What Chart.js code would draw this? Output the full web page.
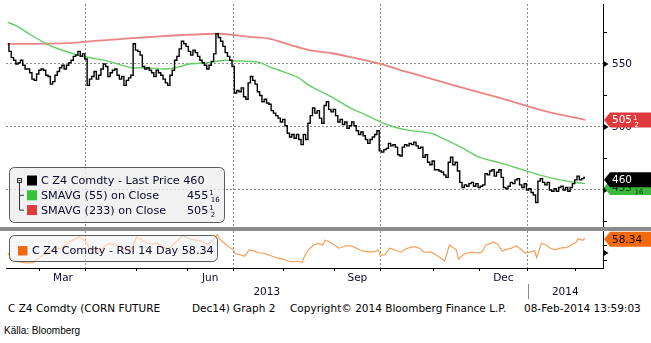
<!DOCTYPE html>
<html>
<head>
<meta charset="utf-8">
<script src="https://cdn.jsdelivr.net/npm/chart.js@4.4.1/dist/chart.umd.min.js"></script>
<style>
  html, body { margin: 0; padding: 0; background: #fff; }
  #wrap { position: relative; width: 651px; height: 343px; overflow: hidden; font-family: 'DejaVu Sans', sans-serif; color: #000; }
  #priceBox { position: absolute; left: 0; top: 0; width: 651px; height: 227px; }
  #rsiBox { position: absolute; left: 0; top: 231px; width: 651px; height: 69px; }
  #split { position: absolute; left: 0; top: 227px; width: 651px; height: 4px; background: #8c8c8c; }
  .foot { position: absolute; top: 302px; font-size: 10.5px; line-height: 12px; white-space: pre; }
  #source { position: absolute; left: 4px; top: 325px; font: 10px/12px 'Liberation Sans', Arial, sans-serif; }
</style>
</head>
<body>
<div id="wrap">
  <div id="priceBox"><canvas id="priceCanvas"></canvas></div>
  <div id="split"></div>
  <div id="rsiBox"><canvas id="rsiCanvas"></canvas></div>
  <div class="foot" style="left:8px">C Z4 Comdty (CORN FUTURE</div>
  <div class="foot" style="left:192px">Dec14) Graph 2</div>
  <div class="foot" style="left:290px">Copyright© 2014 Bloomberg Finance L.P.</div>
  <div class="foot" style="left:524px">08-Feb-2014 13:59:03</div>
  <div id="source">Källa: Bloomberg</div>
</div>
<script>
// daily closes, one per trading day (index 0 = 8 Feb 2013)
const closes = [
  566, 560, 555, 553, 550, 551, 553, 549, 546, 546,
  543, 538, 537, 542, 545, 546, 545, 541, 540, 534,
  536, 541, 544, 547, 549, 546, 549, 551, 553, 556,
  557, 560, 556, 558, 554, 533, 538, 540, 544, 538,
  541, 546, 550, 548, 540, 543, 545, 546, 541, 538,
  540, 533, 537, 539, 541, 566, 561, 560, 557, 548,
  546, 547, 545, 543, 540, 545, 543, 541, 538, 535,
  533, 541, 545, 553, 556, 562, 568, 566, 564, 560,
  557, 561, 559, 556, 553, 551, 549, 546, 549, 552,
  558, 574, 571, 568, 564, 559, 556, 553, 548, 527,
  529, 528, 531, 524, 522, 535, 540, 537, 534, 528,
  525, 520, 522, 519, 518, 513, 511, 509, 507, 504,
  506, 501, 495, 492, 494, 491, 494, 490, 486, 494,
  490, 503, 509, 515, 511, 513, 507, 503, 517, 520,
  514, 512, 514, 509, 504, 506, 502, 504, 499, 501,
  504, 501, 497, 494, 496, 493, 490, 487, 490, 492,
  494, 497, 481, 480, 482, 483, 487, 485, 486, 484,
  478, 477, 484, 486, 485, 487, 486, 488, 485, 483,
  484, 476, 478, 472, 470, 473, 466, 466, 465, 464,
  462, 460, 472, 476, 470, 472, 465, 456, 452, 454,
  453, 455, 456, 453, 455, 452, 453, 454, 463, 462,
  465, 466, 461, 464, 466, 460, 452, 451, 453, 456,
  455, 458, 459, 454, 452, 455, 450, 451, 448, 446,
  440, 457, 459, 456, 454, 456, 450, 449, 451, 449,
  452, 453, 450, 452, 449, 452, 455, 458, 461, 458,
  459, 460
];

// 55-day moving average
const sma55Days = [0, 4, 11, 18, 26, 34, 43, 54, 60, 69, 74, 79, 87, 94, 98, 109, 114, 118, 126, 131,
  139, 143, 149, 154, 162, 168, 174, 184, 188, 197, 205, 214, 223, 231, 240, 249, 251];
const sma55 = [583, 580, 572, 565, 559.5, 555.5, 552.5, 547, 547, 546, 547.5, 550, 551, 553, 552.5, 551.5, 547.5, 545, 539.5, 533,
  525.5, 521.5, 515, 511, 504, 500, 497.5, 495, 492, 484, 476, 471.5, 466.5, 462, 458, 455.5, 455.0625];

// 233-day moving average
const sma233Days = [0, 11, 26, 33, 43, 54, 63, 76, 92, 98, 105, 114, 123, 131, 141, 150, 162, 171, 179, 194, 201, 214, 226, 237, 248, 251];
const sma233 = [566, 566, 566.5, 567.5, 569, 570.5, 571.5, 573, 574, 573, 571.5, 570, 565, 561, 558.5, 555, 550, 545, 541, 533, 529.5, 523, 516.5, 511, 507, 505.5];

// RSI 14
const rsiDays = [0, 2, 5, 8, 11, 13, 14, 16, 18, 21, 23, 25, 27, 29, 31, 33, 34, 36, 38, 40,
  42, 44, 47, 49, 52, 54, 56, 59, 62, 65, 68, 70, 72, 74, 76, 78, 80, 84, 87, 89,
  91, 92, 95, 98, 99, 101, 103, 105, 107, 109, 111, 113, 115, 117, 120, 122, 124, 126, 128, 129,
  131, 133, 135, 137, 138, 139, 141, 144, 147, 149, 151, 153, 155, 158, 160, 161, 162, 164, 166, 168,
  171, 173, 175, 177, 179, 181, 184, 186, 188, 190, 192, 193, 195, 196, 198, 200, 202, 204, 206, 208,
  210, 211, 213, 215, 216, 219, 221, 223, 225, 227, 229, 230, 232, 234, 236, 238, 240, 243, 245, 247,
  248, 250, 251];
const rsiValues = [40, 31, 29, 27.5, 28, 33, 35, 38, 42, 45, 46, 50, 55, 57, 60, 56, 54, 43, 46, 42,
  48, 52, 50, 47, 43, 46, 60, 55, 51, 52, 47, 45, 51, 56, 62, 59, 57, 55, 51, 55,
  63, 58, 50, 44, 39, 38, 36, 44, 43, 40, 40, 38, 36, 34, 32, 30, 29, 30, 28, 36,
  45, 50, 52, 50, 56, 55, 52, 46, 49, 49, 47, 44, 42, 41, 42, 44, 37, 38, 46, 44,
  41, 45, 47, 48, 46, 41, 41, 38, 34, 30, 50, 48, 44, 32, 38, 40, 41, 40, 41, 50,
  52, 54, 51, 42, 44, 46, 49, 45, 40, 41, 43, 34, 52, 50, 46, 44, 46, 47, 50, 53,
  58, 56, 58.34];

// time axis (trading-day index of each month's first session)
const monthStarts = [14, 34, 56, 78, 98, 120, 142, 162, 185, 205, 226, 247];
const monthNames = ['Mar', 'Apr', 'May', 'Jun', 'Jul', 'Aug', 'Sep', 'Oct', 'Nov', 'Dec', 'Jan', 'Feb'];
const shownMonths = ['Mar', 'Jun', 'Sep', 'Dec'];
const gridMonths = ['Apr', 'Jul', 'Oct', 'Jan'];
const yearNames = ['2013', '2014'];
const yearBreak = 226;

const priceTicks = [425, 450, 475, 500, 525, 550, 575];
const priceLabelled = [450, 500, 550];
const rsiTicks = [30, 40, 50, 60];
const rsiLabelled = [40, 60];

const lastPrice = 460;
const lastSma55 = 455.0625;
const lastSma233 = 505.5;
const lastRsi = 58.34;

const X_MIN = -0.78, X_MAX = 258.8;
const FONT = "'DejaVu Sans', sans-serif";
const TEXT = '#0a0a2a';

Chart.defaults.font.family = FONT;
Chart.defaults.color = TEXT;

function pairs(xs, ys) {
  return xs.map((x, i) => ({ x, y: ys[i] }));
}

function isGridMonth(tick) {
  if (!tick) return false;
  const i = monthStarts.indexOf(tick.value);
  return i >= 0 && gridMonths.includes(monthNames[i]);
}

function roundBox(ctx, x, y, w, h, r) {
  ctx.beginPath();
  ctx.moveTo(x + r, y);
  ctx.lineTo(x + w - r, y);
  ctx.arcTo(x + w, y, x + w, y + r, r);
  ctx.lineTo(x + w, y + h - r);
  ctx.arcTo(x + w, y + h, x + w - r, y + h, r);
  ctx.lineTo(x + r, y + h);
  ctx.arcTo(x, y + h, x, y + h - r, r);
  ctx.lineTo(x, y + r);
  ctx.arcTo(x, y, x + r, y, r);
  ctx.closePath();
}

function drawFraction(ctx, x, cy, num, den) {
  ctx.save();
  ctx.font = '7px ' + FONT;
  ctx.textAlign = 'left';
  ctx.textBaseline = 'alphabetic';
  ctx.fillText(num, x, cy - 0.5);
  ctx.fillText(den, x + 1.5, cy + 6.5);
  ctx.restore();
}

function axisArrow(ctx, x, y) {
  ctx.beginPath();
  ctx.moveTo(x, y - 3.5);
  ctx.lineTo(x + 5.5, y);
  ctx.lineTo(x, y + 3.5);
  ctx.closePath();
  ctx.fillStyle = '#000';
  ctx.fill();
}

function drawTag(ctx, left, cy, fill, color, text, frac) {
  const h = 15, right = ctx.canvas.width;
  ctx.beginPath();
  ctx.moveTo(left, cy);
  ctx.lineTo(left + 6, cy - h / 2);
  ctx.lineTo(right, cy - h / 2);
  ctx.lineTo(right, cy + h / 2);
  ctx.lineTo(left + 6, cy + h / 2);
  ctx.closePath();
  ctx.fillStyle = fill;
  ctx.fill();
  ctx.fillStyle = color;
  ctx.font = '10.5px ' + FONT;
  ctx.textAlign = 'left';
  ctx.textBaseline = 'middle';
  ctx.fillText(text, left + 8, cy + 0.5);
  if (frac) {
    drawFraction(ctx, left + 9 + ctx.measureText(text).width, cy, frac[0], frac[1]);
  }
}

const priceOverlay = {
  id: 'priceOverlay',
  afterDraw(chart) {
    const { ctx, chartArea, scales: { y } } = chart;
    const right = chartArea.right;
    ctx.save();

    axisArrow(ctx, right, y.getPixelForValue(550));
    axisArrow(ctx, right, y.getPixelForValue(500));
    axisArrow(ctx, right, y.getPixelForValue(450));

    drawTag(ctx, right + 1, y.getPixelForValue(lastSma233), '#e0393e', '#fff', '505', ['1', '2']);
    drawTag(ctx, right + 1, y.getPixelForValue(lastSma55) + 4, '#3cb83c', '#0c3a0c', '455', ['1', '16']);
    drawTag(ctx, right + 1, y.getPixelForValue(lastPrice) + 2.5, '#000', '#fff', String(lastPrice));

    // legend
    roundBox(ctx, 9.5, 167.5, 215, 55, 5);
    ctx.fillStyle = 'rgba(238,238,238,0.82)';
    ctx.fill();
    ctx.strokeStyle = '#5a5a5a';
    ctx.lineWidth = 1;
    ctx.stroke();

    const rows = [
      { color: '#000', text: 'C Z4 Comdty - Last Price 460', value: null },
      { color: '#36c236', text: 'SMAVG (55) on Close', value: ['455', '1', '16'] },
      { color: '#e03a3a', text: 'SMAVG (233) on Close', value: ['505', '1', '2'] }
    ];
    ctx.font = '11.2px ' + FONT;
    ctx.textBaseline = 'middle';
    rows.forEach((r, i) => {
      const cy = 180.5 + i * 14.8;
      ctx.fillStyle = r.color;
      ctx.fillRect(27, cy - 5, 10, 10);
      ctx.fillStyle = TEXT;
      ctx.fillText(r.text, 41, cy + 0.5);
      if (r.value) {
        ctx.fillText(r.value[0], 187, cy + 0.5);
        drawFraction(ctx, 188 + ctx.measureText(r.value[0]).width, cy, r.value[1], r.value[2]);
      }
    });

    // tree connector
    ctx.strokeStyle = '#333';
    ctx.strokeRect(17.5, 178.5, 4, 4);
    ctx.beginPath();
    ctx.moveTo(18.5, 180.5); ctx.lineTo(20.5, 180.5);
    ctx.moveTo(19.5, 182.5); ctx.lineTo(19.5, 210.1);
    ctx.moveTo(19.5, 195.3); ctx.lineTo(24, 195.3);
    ctx.moveTo(19.5, 210.1); ctx.lineTo(24, 210.1);
    ctx.stroke();

    ctx.restore();
  }
};

const rsiOverlay = {
  id: 'rsiOverlay',
  afterDraw(chart) {
    const { ctx, chartArea, scales: { x, y } } = chart;
    const right = chartArea.right;
    ctx.save();

    axisArrow(ctx, right, y.getPixelForValue(40));
    drawTag(ctx, right + 1, y.getPixelForValue(lastRsi) + 1, '#f26a10', '#1a0800', lastRsi.toFixed(2));

    // month names centred in their month
    ctx.fillStyle = TEXT;
    ctx.font = '10.5px ' + FONT;
    ctx.textAlign = 'center';
    ctx.textBaseline = 'alphabetic';
    monthNames.forEach((m, i) => {
      if (!shownMonths.includes(m)) return;
      const a = x.getPixelForValue(monthStarts[i]);
      const b = x.getPixelForValue(monthStarts[i + 1]);
      ctx.fillText(m, (a + b) / 2, chartArea.bottom + 13);
    });

    // year labels and divider
    const left = x.getPixelForValue(X_MIN);
    const br = x.getPixelForValue(yearBreak);
    const end = x.getPixelForValue(X_MAX);
    ctx.fillText(yearNames[0], (left + br) / 2, chartArea.bottom + 27);
    ctx.fillText(yearNames[1], (br + end) / 2, chartArea.bottom + 27);
    ctx.strokeStyle = '#8a8a8a';
    ctx.lineWidth = 1;
    ctx.beginPath();
    ctx.moveTo(Math.round(br) + 0.5, chartArea.bottom + 16);
    ctx.lineTo(Math.round(br) + 0.5, chartArea.bottom + 31);
    ctx.stroke();

    // legend
    roundBox(ctx, 9.5, 4.5, 208, 26, 5);
    ctx.fillStyle = 'rgba(242,242,242,0.62)';
    ctx.fill();
    ctx.strokeStyle = '#5a5a5a';
    ctx.stroke();
    ctx.fillStyle = '#f26a10';
    ctx.fillRect(18, 15, 9.5, 9.5);
    ctx.fillStyle = TEXT;
    ctx.font = '11.2px ' + FONT;
    ctx.textAlign = 'left';
    ctx.textBaseline = 'middle';
    ctx.fillText('C Z4 Comdty - RSI 14 Day ' + lastRsi.toFixed(2), 32, 20.5);

    ctx.restore();
  }
};

function timeAxis(height, withTicks) {
  return {
    type: 'linear',
    min: X_MIN,
    max: X_MAX,
    afterBuildTicks: s => { s.ticks = monthStarts.map(v => ({ value: v })); },
    afterFit: s => { s.height = height; s.paddingLeft = 0; s.paddingRight = 0; },
    ticks: { display: false },
    grid: {
      color: c => isGridMonth(c.tick) ? '#8a8a8a' : 'rgba(0,0,0,0)',
      drawTicks: withTicks,
      tickLength: 3,
      tickColor: '#000',
      tickBorderDash: []
    },
    border: { display: withTicks, color: '#000', width: 1, dash: [2, 2] }
  };
}

function valueAxis(min, max, ticks, labelled) {
  return {
    position: 'right',
    min,
    max,
    afterBuildTicks: s => { s.ticks = ticks.map(v => ({ value: v })); },
    afterFit: s => { s.width = 48; s.paddingTop = 0; s.paddingBottom = 0; },
    ticks: {
      padding: 5,
      color: TEXT,
      font: { size: 10.5 },
      callback: v => labelled.includes(v) ? String(v) : ''
    },
    grid: {
      color: c => (c.tick && labelled.includes(c.tick.value)) ? '#8a8a8a' : 'rgba(0,0,0,0)',
      tickColor: '#000',
      tickLength: 4,
      tickBorderDash: []
    },
    border: { display: true, color: '#000', width: 1, dash: [2, 2] }
  };
}

new Chart(document.getElementById('priceCanvas'), {
  type: 'line',
  data: {
    datasets: [
      {
        label: 'C Z4 Comdty - Last Price',
        data: closes.map((v, i) => ({ x: i, y: v })),
        borderColor: '#000',
        borderWidth: 1.4,
        pointRadius: 0,
        stepped: 'middle'
      },
      {
        label: 'SMAVG (55) on Close',
        data: pairs(sma55Days, sma55),
        borderColor: '#64d064',
        borderWidth: 1.4,
        pointRadius: 0,
        tension: 0.3
      },
      {
        label: 'SMAVG (233) on Close',
        data: pairs(sma233Days, sma233),
        borderColor: '#ea8585',
        borderWidth: 1.8,
        pointRadius: 0,
        tension: 0.3
      }
    ]
  },
  options: {
    responsive: true,
    maintainAspectRatio: false,
    animation: false,
    layout: { padding: { left: 6, top: 4, right: 0, bottom: 0 } },
    plugins: { legend: { display: false }, tooltip: { enabled: false } },
    scales: {
      x: timeAxis(0, false),
      y: valueAxis(420.6, 597.6, priceTicks, priceLabelled)
    }
  },
  plugins: [priceOverlay]
});

new Chart(document.getElementById('rsiCanvas'), {
  type: 'line',
  data: {
    datasets: [{
      label: 'C Z4 Comdty - RSI 14 Day',
      data: pairs(rsiDays, rsiValues),
      borderColor: '#f5a05a',
      borderWidth: 1.2,
      pointRadius: 0,
      tension: 0
    }]
  },
  options: {
    responsive: true,
    maintainAspectRatio: false,
    animation: false,
    layout: { padding: { left: 6, top: 0, right: 0, bottom: 0 } },
    plugins: { legend: { display: false }, tooltip: { enabled: false } },
    scales: {
      x: timeAxis(32, true),
      y: valueAxis(21.25, 67.5, rsiTicks, rsiLabelled)
    }
  },
  plugins: [rsiOverlay]
});
</script>
</body>
</html>
